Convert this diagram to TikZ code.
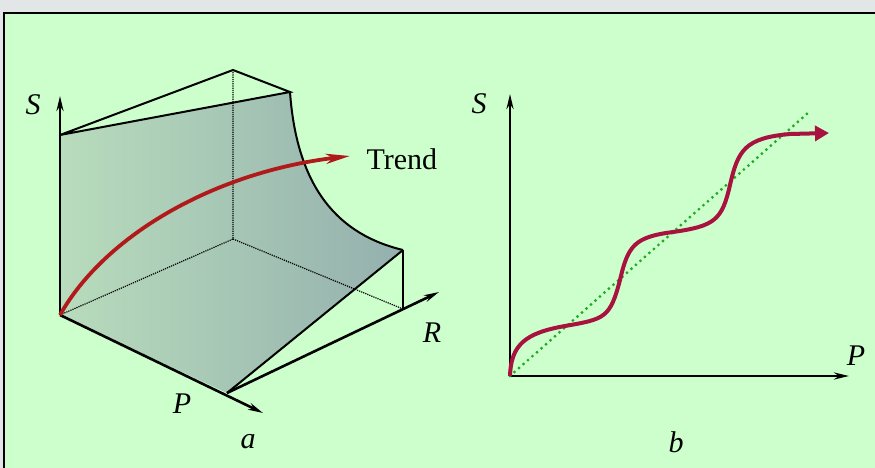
\documentclass[tikz,border=0pt]{standalone}
\usepackage{fontspec}
\setmainfont{Liberation Serif}
\usetikzlibrary{arrows.meta}
\definecolor{bggreen}{HTML}{CCFFCC}
\definecolor{framegray}{HTML}{E3E6E6}
\definecolor{shadeL}{HTML}{B8DCBC}
\definecolor{shadeR}{HTML}{94B0AE}
\definecolor{trendred}{HTML}{B01A1A}
\definecolor{waverred}{HTML}{A8123F}
\definecolor{dotgreen}{HTML}{22AA22}
\begin{document}
\begin{tikzpicture}[x=1pt,y=-1pt,
  ax/.style={line width=2.6pt,-{Stealth[length=15pt,width=7pt]}},
  edge/.style={line width=2pt},
  hid/.style={line width=1.2pt,densely dotted},
  lbl/.style={font=\fontsize{30}{36}\selectfont\itshape}]
  \useasboundingbox (0,0) rectangle (875,468);
  \fill[framegray] (0,0) rectangle (875,468);
  \fill[bggreen] (4,13) rectangle (876,469);
  \draw[line width=1.2pt] (4,469) -- (4,13) -- (876,13);

  % --- panel a: the block
  \coordinate (O) at (60,315);
  \coordinate (A) at (60,135);
  \coordinate (B) at (233,70);
  \coordinate (C) at (290,92);
  \coordinate (D) at (233,239);
  \coordinate (E) at (403,250);
  \coordinate (F) at (403,309);
  \coordinate (G) at (227,393);
  \coordinate (Stip) at (60,96);
  \coordinate (Ptip) at (263,413);
  \coordinate (Rtip) at (439,292);
  \coordinate (Ttip) at (350,156);

  \shade[left color=shadeL,right color=shadeR]
    (O) -- (A) -- (C) .. controls (297,190) and (340,235) .. (E) -- (G) -- cycle;
  \draw[hid] (B) -- (D) -- (O);
  \draw[hid] (D) -- (F);
  \draw[edge] (A) -- (B) -- (C) -- cycle;
  \draw[edge] (C) .. controls (297,190) and (340,235) .. (E);
  \draw[edge] (E) -- (F);
  \draw[edge] (E) -- (G);
  \draw[ax] (O) -- (Stip);
  \draw[ax] (O) -- (Ptip);
  \draw[ax] (G) -- (Rtip);
  \draw[trendred,line width=3.8pt,-{Stealth[length=24pt,width=10pt,inset=7pt]}]
    (O) .. controls (105,235) and (215,172) .. (Ttip);

  \node[lbl] (Sa) at (33,105) {S};
  \node[lbl] (Pa) at (182,404) {P};
  \node[lbl] (Ra) at (432,333) {R};
  \node[font=\fontsize{30}{36}\selectfont,anchor=west] (trend) at (363,159) {Trend};
  \node[lbl] (capa) at (248,442) {a};

  % --- panel b: the steps
  \coordinate (Ob) at (510,376);
  \coordinate (Sbtip) at (510,94);
  \coordinate (Pbtip) at (849,376);
  \coordinate (Dend) at (809,112);
  \coordinate (Wtip) at (829,133);

  \draw[ax] (Ob) -- (Sbtip);
  \draw[ax] (Ob) -- (Pbtip);
  \draw[dotgreen,line width=3.2pt,line cap=round,dash pattern=on 0pt off 6pt] (Ob) -- (Dend);
  \draw[waverred,line width=4pt,-{Triangle[length=14pt,width=15pt]}]
    (Ob) .. controls (511,345) and (525,333) .. (565,326)
    .. controls (605,319) and (610,318) .. (620,280)
    .. controls (628,245) and (635,237) .. (673,232)
    .. controls (715,226) and (722,220) .. (730,185)
    .. controls (738,150) and (745,138) .. (790,134)
    -- (Wtip);

  \node[lbl] (Sb) at (479,104) {S};
  \node[lbl] (Pb) at (856,356) {P};
  \node[lbl] (capb) at (676,442) {b};
\end{tikzpicture}
\end{document}
